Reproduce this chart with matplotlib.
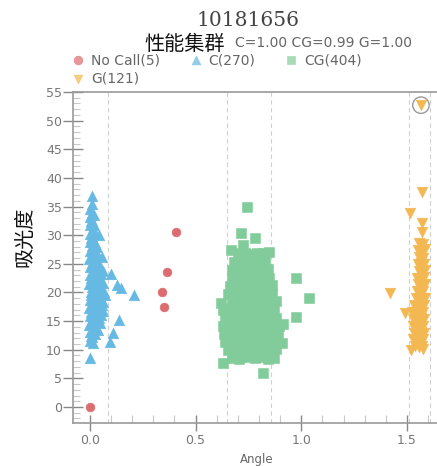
import matplotlib
matplotlib.use("Agg")
import matplotlib.pyplot as plt
from matplotlib.ticker import MultipleLocator

# ---- data ----
title = "10181656"
subtitle = "性能集群"
stats = "C=1.00 CG=0.99 G=1.00"
labels = ["No Call(5)", "C(270)", "CG(404)", "G(121)"]
colors = ["#dc6c70", "#66b9e2", "#82cc9b", "#f3b852"]
markers = ["o", "^", "s", "v"]
cut_lines = [0.085, 0.648, 0.858, 1.508, 1.61]
flagged = (1.566, 52.7)

nocall_pts = [(0.0, 0.0), (0.405, 30.5), (0.367, 23.5), (0.34, 20.0), (0.35, 17.5)]

c_pts = [
    (0.000, 11.6), (0.002, 13.1), (-0.003, 14.4), (0.001, 15.8), (-0.002, 17.2), (0.000, 18.7),
    (0.003, 20.1), (-0.002, 21.5), (0.001, 23.0), (0.000, 24.4), (-0.003, 25.9), (0.002, 27.3),
    (0.000, 28.8), (-0.001, 30.2), (0.001, 31.7), (0.000, 33.1), (0.002, 34.6),
    (0.012, 12.2), (0.014, 13.6), (0.011, 15.1), (0.013, 16.5), (0.010, 18.0), (0.014, 19.4),
    (0.012, 20.9), (0.011, 22.3), (0.013, 23.8), (0.010, 25.2), (0.014, 26.7), (0.012, 28.1),
    (0.011, 29.6), (0.013, 31.0), (0.010, 32.5), (0.012, 33.9), (0.011, 35.4), (0.010, 36.8),
    (0.025, 12.8), (0.024, 14.2), (0.027, 15.7), (0.023, 17.1), (0.026, 18.6), (0.024, 20.0),
    (0.027, 21.5), (0.025, 22.9), (0.023, 24.4), (0.026, 25.8), (0.024, 27.3), (0.025, 28.7),
    (0.022, 30.2), (0.021, 31.8), (0.018, 33.5),
    (0.038, 13.4), (0.036, 14.8), (0.039, 16.3), (0.037, 17.7), (0.040, 19.2), (0.036, 20.6),
    (0.039, 22.1), (0.038, 23.5), (0.036, 25.0), (0.037, 26.4), (0.034, 27.9), (0.044, 30.0),
    (0.050, 14.6), (0.052, 16.0), (0.049, 17.5), (0.053, 18.9), (0.051, 20.4), (0.050, 21.8),
    (0.053, 23.3), (0.049, 24.7), (0.058, 26.2),
    (0.062, 16.7), (0.064, 18.3), (0.066, 20.0), (0.063, 21.6), (0.060, 23.8), (0.072, 19.6),
    (0.006, 12.4), (0.018, 14.9), (0.006, 16.5), (0.030, 18.0), (0.006, 19.5), (0.031, 20.8),
    (0.006, 22.6), (0.030, 24.0), (0.006, 26.0), (0.030, 27.0), (0.006, 29.5), (0.016, 30.9),
    (0.005, 32.4), (0.044, 15.5), (0.044, 18.2), (0.044, 21.0), (0.044, 24.1), (0.057, 17.8),
    (0.016, 11.1), (0.000, 8.5), (0.095, 11.4), (0.110, 13.0), (0.139, 15.2), (0.100, 23.3),
    (0.126, 21.3), (0.145, 20.7), (0.210, 19.6),
]

cg_pts = [
    (0.672, 8.6), (0.703, 8.4), (0.738, 8.7), (0.781, 8.5), (0.812, 8.8), (0.843, 8.4), (0.872, 8.6),
    (0.652, 10.0), (0.683, 10.2), (0.711, 9.9), (0.742, 10.1), (0.771, 9.8), (0.802, 10.2),
    (0.831, 10.0), (0.858, 9.9), (0.882, 10.1),
    (0.641, 11.4), (0.671, 11.6), (0.702, 11.3), (0.731, 11.5), (0.762, 11.4), (0.791, 11.2),
    (0.822, 11.6), (0.851, 11.4), (0.879, 11.3),
    (0.632, 12.8), (0.662, 12.9), (0.691, 12.7), (0.722, 12.8), (0.751, 13.0), (0.782, 12.7),
    (0.811, 12.9), (0.842, 12.8), (0.869, 12.6), (0.891, 12.9),
    (0.628, 14.2), (0.659, 14.1), (0.688, 14.3), (0.719, 14.2), (0.748, 14.0), (0.779, 14.3),
    (0.809, 14.2), (0.838, 14.1), (0.868, 14.3), (0.893, 14.2),
    (0.641, 15.6), (0.672, 15.7), (0.701, 15.5), (0.732, 15.6), (0.761, 15.8), (0.792, 15.5),
    (0.821, 15.6), (0.852, 15.7), (0.882, 15.5),
    (0.631, 17.0), (0.661, 17.1), (0.692, 16.9), (0.721, 17.0), (0.752, 17.2), (0.781, 16.9),
    (0.812, 17.0), (0.841, 17.1), (0.872, 16.9),
    (0.622, 18.2), (0.671, 18.4), (0.702, 18.5), (0.731, 18.3), (0.762, 18.4), (0.789, 18.6),
    (0.822, 18.3), (0.851, 18.4), (0.881, 18.5),
    (0.652, 19.8), (0.681, 19.9), (0.712, 19.7), (0.741, 19.8), (0.772, 20.0), (0.801, 19.7),
    (0.832, 19.9), (0.861, 19.8),
    (0.662, 21.2), (0.691, 21.3), (0.722, 21.1), (0.751, 21.2), (0.782, 21.4), (0.811, 21.1),
    (0.839, 21.2), (0.862, 21.3),
    (0.671, 22.6), (0.702, 22.7), (0.731, 22.5), (0.762, 22.6), (0.791, 22.8), (0.822, 22.5),
    (0.849, 22.6),
    (0.672, 24.0), (0.701, 24.1), (0.732, 23.9), (0.761, 24.0), (0.792, 24.2), (0.821, 23.9),
    (0.842, 24.1),
    (0.682, 25.4), (0.711, 25.5), (0.742, 25.3), (0.772, 25.4), (0.801, 25.6), (0.829, 25.3),
    (0.702, 26.8), (0.733, 26.9), (0.762, 26.7), (0.791, 26.8), (0.818, 26.9),
    (0.725, 28.3), (0.667, 27.4), (0.780, 29.5), (0.845, 27.1), (0.713, 30.3), (0.741, 35.0),
    (0.977, 22.6), (1.036, 19.0), (0.977, 15.7), (0.628, 7.6), (0.820, 5.9), (0.914, 14.5),
    (0.907, 11.1),
]

g_pts = [
    (1.556, 28.6), (1.574, 28.5),
    (1.552, 27.4), (1.569, 27.3), (1.583, 27.5),
    (1.557, 26.2), (1.575, 26.1),
    (1.550, 25.0), (1.566, 25.1), (1.581, 24.9),
    (1.555, 23.8), (1.572, 23.7), (1.584, 23.9),
    (1.549, 22.6), (1.565, 22.5), (1.580, 22.7),
    (1.554, 21.4), (1.571, 21.3), (1.585, 21.5),
    (1.546, 20.2), (1.562, 20.1), (1.578, 20.3),
    (1.541, 19.0), (1.557, 18.9), (1.574, 19.1), (1.586, 19.0),
    (1.535, 17.8), (1.551, 17.7), (1.567, 17.9), (1.582, 17.8),
    (1.525, 16.6), (1.545, 16.5), (1.561, 16.7), (1.577, 16.6),
    (1.530, 15.4), (1.548, 15.3), (1.565, 15.5), (1.581, 15.4),
    (1.527, 14.2), (1.543, 14.1), (1.559, 14.3), (1.575, 14.2),
    (1.532, 13.0), (1.550, 12.9), (1.566, 13.1), (1.580, 13.0),
    (1.528, 11.8), (1.546, 11.7), (1.562, 11.9), (1.576, 11.8),
    (1.538, 10.6), (1.556, 10.5), (1.571, 10.7),
    (1.569, 37.6), (1.514, 33.8), (1.569, 32.1), (1.569, 30.6), (1.420, 19.9), (1.490, 16.4),
    (1.520, 10.0), (1.575, 10.2), flagged,
]

groups = [nocall_pts, c_pts, cg_pts, g_pts]
sizes = [40, 58, 50, 58]

W, H = 437, 466
fig = plt.figure(figsize=(W / 100, H / 100), dpi=100)
ax = fig.add_axes([73 / W, 1 - 423 / H, (W - 73) / W, (423 - 92) / H])

for x in cut_lines:
    ax.axvline(x, color="#d0d0d0", lw=0.8, ls=(0, (4, 3)), zorder=1)

handles = []
for pts, lab, col, mk, s in zip(groups, labels, colors, markers, sizes):
    xs = [p[0] for p in pts]
    ys = [p[1] for p in pts]
    h = ax.scatter(xs, ys, s=s, marker=mk, facecolors=col, edgecolors=col, linewidths=0.4,
                   label=lab, zorder=3)
    handles.append(h)

# flagged sample ring
ax.scatter([flagged[0]], [flagged[1]], s=140, facecolors="none", edgecolors="#9a9a9a", linewidths=1.0, zorder=4)

ax.set_xlim(-0.08, 1.642)
ax.set_ylim(-2.8, 55)
ax.xaxis.set_minor_locator(MultipleLocator(0.1))
ax.yaxis.set_major_locator(MultipleLocator(5))
ax.yaxis.set_minor_locator(MultipleLocator(1))
ax.set_xticks([0, 0.5, 1.0, 1.5])
ax.set_xticklabels(["0.0", "0.5", "1.0", "1.5"])

ax.tick_params(axis="x", which="major", direction="inout", length=12, width=1, color="#888888",
               labelsize=9, labelcolor="#777777", pad=2)
ax.tick_params(axis="x", which="minor", direction="in", length=6, width=0.8, color="#c8c8c8")
ax.tick_params(axis="y", which="major", direction="inout", length=14, width=1, color="#888888",
               labelsize=9, labelcolor="#777777", pad=1)
ax.tick_params(axis="y", which="minor", direction="in", length=5, width=0.8, color="#c8c8c8")

for side in ["left", "bottom", "top"]:
    ax.spines[side].set_color("#9a9a9a")
    ax.spines[side].set_linewidth(1.2)
ax.spines["right"].set_visible(False)

fig.text(248 / W, 1 - 20 / H, title, ha="center", va="center", fontsize=14.5,
         family="DejaVu Serif", color="#444444")
fig.text(185 / W, 1 - 44 / H, subtitle, ha="center", va="center", fontsize=14.5,
         family=["Noto Sans CJK SC", "DejaVu Sans"], color="#111111")
fig.text(235 / W, 1 - 47 / H, stats, ha="left", va="baseline", fontsize=10, color="#666666")
fig.text(25 / W, 1 - 237 / H, "吸光度", ha="center", va="center", rotation=90, fontsize=14.5,
         family=["Noto Sans CJK SC", "DejaVu Sans"], color="#111111")
fig.text(257 / W, 1 - 459 / H, "Angle", ha="center", va="center", fontsize=8.5, color="#666666")

# legend fills column-wise, so order it to read No Call, C, CG / G
order = [0, 3, 1, 2]
leg = fig.legend([handles[i] for i in order], [labels[i] for i in order],
                 loc="upper left", bbox_to_anchor=(70 / W, 1 - 53 / H), ncol=3, frameon=False,
                 fontsize=10, labelcolor="#666666", handletextpad=0.3, columnspacing=2.0,
                 borderpad=0, borderaxespad=0, labelspacing=0.3, handlelength=1.2)
for h in leg.legend_handles:
    h.set_alpha(0.7)
    h.set_sizes([40])

fig.savefig("out.png", dpi=100)
